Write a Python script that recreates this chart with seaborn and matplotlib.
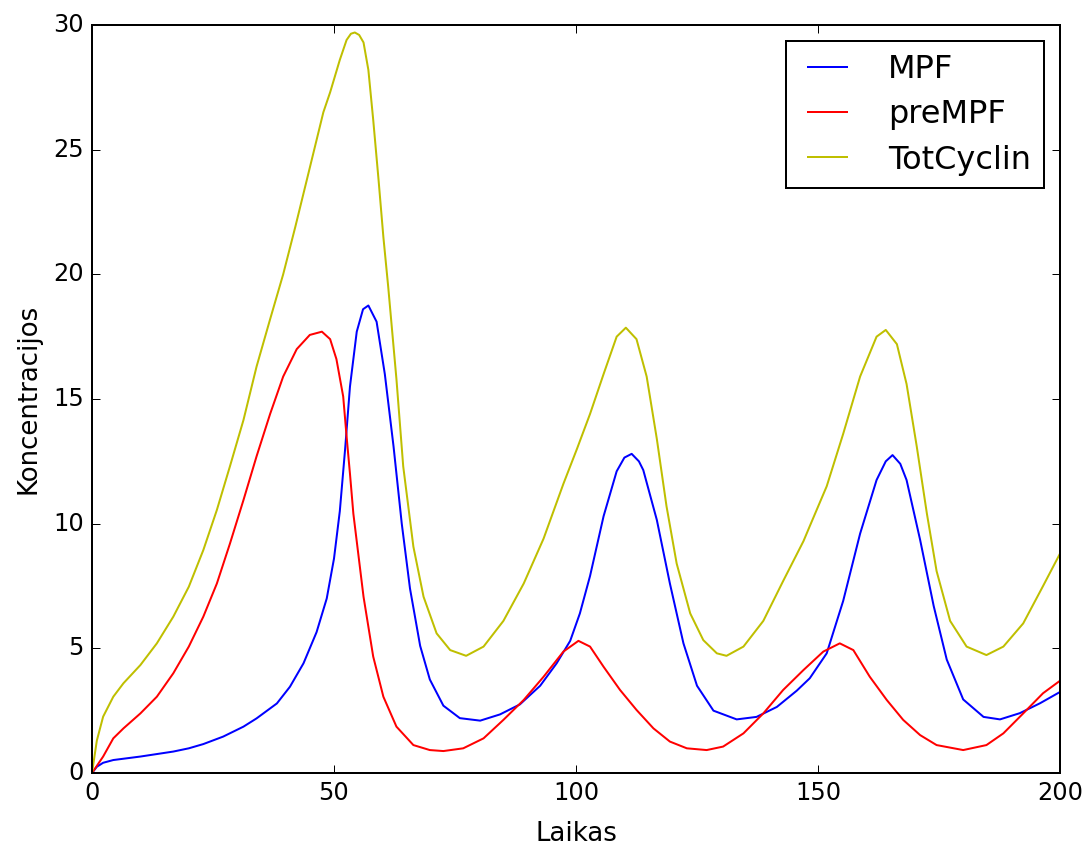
import numpy as np
import matplotlib
matplotlib.use('Agg')
import matplotlib.pyplot as plt
import seaborn as sns

# values
mpf_t = [0, 1, 2.3, 4.4, 10, 16.8, 20, 23, 27.1, 31.3, 34, 38.2, 40.9, 43.7, 46.4,
         48.5, 50, 51.2, 52.3, 53.3, 54.7, 56, 57.1, 58.8, 60.5, 62.3, 64, 65.7,
         67.8, 69.8, 72.6, 76, 80.2, 84.3, 88.4, 92.6, 96, 98.8, 100.8, 102.9,
         105.7, 108.4, 110, 111.5, 113, 113.9, 116.7, 119.4, 122.2, 125, 128.4,
         133.2, 137.3, 141.5, 145.6, 148.3, 151.8, 155.2, 158.7, 162.1, 164,
         165.4, 167, 168.3, 171.1, 173.9, 176.6, 180, 184.2, 187.6, 191.7, 195.9, 200]
mpf_v = [0, 0.25, 0.41, 0.52, 0.66, 0.86, 0.99, 1.16, 1.46, 1.86, 2.19, 2.79, 3.46, 4.4, 5.65,
         7.0, 8.6, 10.5, 13.0, 15.5, 17.7, 18.6, 18.75, 18.1, 16.0, 13.1, 10.0, 7.4,
         5.1, 3.75, 2.7, 2.2, 2.1, 2.35, 2.75, 3.5, 4.4, 5.3, 6.4, 7.9,
         10.3, 12.1, 12.65, 12.8, 12.5, 12.15, 10.15, 7.6, 5.2, 3.5, 2.5,
         2.15, 2.25, 2.65, 3.3, 3.8, 4.8, 6.9, 9.6, 11.75, 12.5,
         12.75, 12.4, 11.75, 9.35, 6.7, 4.55, 2.95, 2.25, 2.15, 2.4, 2.8, 3.25]

pre_t = [0, 2.3, 4.4, 6.5, 10, 13.4, 16.8, 20, 23, 25.8, 28.5, 31.3, 34, 36.8, 39.5,
         42.3, 45, 47.5, 49.2, 50.5, 51.9, 52.6, 53.3, 54, 56.1, 58.1, 60.2, 62.9,
         66.4, 69.8, 72.6, 76.7, 80.9, 85, 89.2, 93.3, 97.4, 100.5, 102.9, 105.7,
         109.1, 112.5, 116, 119.4, 122.9, 127, 130.4, 134.6, 138.7, 142.8, 147,
         151.1, 154.5, 157.3, 160.7, 164.2, 167.6, 171.1, 174.5, 180, 184.8, 188.3,
         192.4, 196.5, 200]
pre_v = [0, 0.66, 1.39, 1.79, 2.39, 3.06, 4.0, 5.07, 6.27, 7.6, 9.2, 10.95, 12.7, 14.4, 15.9,
         17.0, 17.57, 17.7, 17.4, 16.6, 15.1, 13.5, 12.0, 10.4, 7.07, 4.67, 3.06, 1.86,
         1.12, 0.92, 0.88, 0.99, 1.39, 2.13, 2.93, 3.86, 4.87, 5.3, 5.07, 4.26,
         3.33, 2.53, 1.79, 1.26, 0.99, 0.92, 1.06, 1.59, 2.39, 3.33, 4.13,
         4.87, 5.2, 4.93, 3.86, 2.93, 2.13, 1.52, 1.12, 0.92, 1.12, 1.59,
         2.39, 3.2, 3.7]

tot_t = [0, 1, 2.3, 4.4, 6.5, 10, 13.4, 16.8, 20, 23, 25.8, 28.5, 31.3, 34, 36.8, 39.5,
         42, 44.4, 47.8, 49.2, 51.2, 52.6, 53.5, 54.3, 55.2, 56.1, 57.1, 58.1, 59.2,
         60.2, 61.2, 62.9, 64.3, 66.4, 68.5, 71.2, 74, 77.3, 80.9, 85, 89.2, 93.3,
         97.4, 100.2, 102.9, 105.7, 108.4, 110.3, 112.5, 114.6, 116.7, 118.7, 120.8,
         123.6, 126.3, 129.1, 131.1, 134.6, 138.7, 142.8, 147, 148.3, 151.8, 155.2,
         158.7, 162.1, 164, 166.3, 168.3, 170.4, 172.5, 174.5, 177.3, 180.7, 184.8,
         188.3, 192.4, 196.5, 200]
tot_v = [0, 1.3, 2.26, 3.06, 3.6, 4.33, 5.2, 6.27, 7.47, 8.94, 10.55, 12.3, 14.16, 16.3, 18.2, 20.0,
         21.9, 23.8, 26.5, 27.3, 28.6, 29.4, 29.65, 29.7, 29.6, 29.3, 28.2, 26.2, 23.8,
         21.5, 19.5, 15.8, 12.3, 9.08, 7.07, 5.6, 4.93, 4.7, 5.07, 6.1, 7.6, 9.4,
         11.6, 13.0, 14.4, 16.0, 17.5, 17.86, 17.4, 15.9, 13.4, 10.7, 8.4,
         6.4, 5.33, 4.8, 4.7, 5.07, 6.1, 7.7, 9.3, 9.9, 11.5, 13.6,
         15.9, 17.5, 17.77, 17.2, 15.6, 13.1, 10.4, 8.1, 6.1, 5.07, 4.73,
         5.07, 6.0, 7.5, 8.8]

plt.style.use('classic')

fig = plt.figure(figsize=(1091 / 144, 849 / 144), dpi=144)
ax = fig.add_axes([92 / 1091, 1 - 773 / 849, (1060 - 92) / 1091, (773 - 25) / 849])

sns.lineplot(x=mpf_t, y=mpf_v, color='b', label='MPF', ax=ax)
sns.lineplot(x=pre_t, y=pre_v, color='r', label='preMPF', ax=ax)
sns.lineplot(x=tot_t, y=tot_v, color='y', label='TotCyclin', ax=ax)

ax.set_xlim(0, 200)
ax.set_ylim(0, 30)
ax.set_xlabel('Laikas', fontsize=13, labelpad=8)
ax.set_ylabel('Koncentracijos', fontsize=13, labelpad=6)
ax.legend(loc='upper right', fontsize=16, handlelength=1.8, handletextpad=1.0,
          borderaxespad=0.5, labelspacing=0.45)

fig.savefig('out.png', dpi=144)
